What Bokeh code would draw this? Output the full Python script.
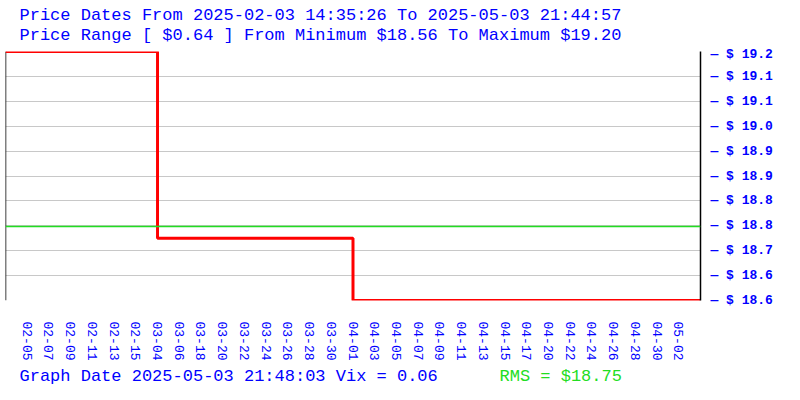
from bokeh.plotting import figure
from bokeh.models import Label, LinearAxis, Range1d, FixedTicker, Span
from bokeh.layouts import column
from bokeh.embed import file_html
from bokeh.resources import INLINE

# ---- data ----
date_labels = ["02-05", "02-07", "02-09", "02-11", "02-13", "02-15", "03-04", "03-06",
               "03-18", "03-20", "03-22", "03-24", "03-26", "03-28", "03-30", "04-01",
               "04-03", "04-05", "04-07", "04-09", "04-11", "04-13", "04-15", "04-17",
               "04-20", "04-22", "04-24", "04-26", "04-28", "04-30", "05-02"]
prices = [19.20] * 6 + [18.72] * 9 + [18.56] * 16
price_min = 18.56
price_max = 19.20
rms = 18.75
title1 = "Price Dates From 2025-02-03 14:35:26 To 2025-05-03 21:44:57"
title2 = "Price Range [ $0.64 ] From Minimum $18.56 To Maximum $19.20"
footer = "Graph Date 2025-05-03 21:48:03 Vix = 0.06"
rms_text = "RMS = $18.75"

BLUE = "#0000ff"
GREEN = "#22dd22"
MONO = "Liberation Mono"
W = 795

n = len(date_labels)
xs = [-1] + list(range(n)) + [n]
ys = [prices[0]] + prices + [prices[-1]]


def text_strip(height):
    f = figure(width=W, height=height, output_backend="svg", toolbar_location=None,
               x_range=Range1d(0, 1), y_range=Range1d(0, 1),
               min_border=0, x_axis_location=None, y_axis_location=None)
    f.outline_line_color = None
    f.grid.visible = False
    return f


def lab(f, txt, x, y, color, size="17px"):
    f.add_layout(Label(x=x, y=y, x_units="screen", y_units="screen", text=txt,
                       text_color=color, text_font=MONO, text_font_size=size,
                       text_baseline="middle"))


# header
head = text_strip(46)
lab(head, title1, 14, 31, BLUE)
lab(head, title2, 14, 11, BLUE)

# main chart
p = figure(width=W, height=317, output_backend="svg", toolbar_location=None,
           x_range=Range1d(-1, n), y_range=Range1d(price_min, price_max),
           min_border_left=5, min_border_right=95, min_border_top=5, min_border_bottom=62,
           y_axis_location=None)
p.outline_line_color = None
p.background_fill_color = "white"
p.border_fill_color = "white"

step = (price_max - price_min) / 10
yticks = [price_min + i * step for i in range(11)]

p.xgrid.visible = False
p.ygrid.ticker = FixedTicker(ticks=yticks)
p.ygrid.grid_line_color = "#c8c8c8"
p.ygrid.grid_line_width = 1

ax = LinearAxis(ticker=FixedTicker(ticks=yticks))
ax.major_label_overrides = {t: "\u2014 $ %.1f" % t for t in yticks}
ax.axis_line_color = "black"
ax.axis_line_width = 1.5
ax.major_tick_line_color = None
ax.minor_tick_line_color = None
ax.major_tick_out = 0
ax.major_tick_in = 0
ax.major_label_standoff = 10
ax.major_label_text_color = BLUE
ax.major_label_text_font = MONO
ax.major_label_text_font_style = "bold"
ax.major_label_text_font_size = "13px"
p.add_layout(ax, "right")

xa = p.xaxis[0]
xa.ticker = FixedTicker(ticks=list(range(n)))
xa.major_label_overrides = {i: d for i, d in enumerate(date_labels)}
xa.major_label_orientation = "vertical"
xa.axis_line_color = None
xa.major_tick_line_color = None
xa.minor_tick_line_color = None
xa.major_tick_out = 0
xa.major_tick_in = 0
xa.major_label_standoff = 21
xa.major_label_text_color = BLUE
xa.major_label_text_font = MONO
xa.major_label_text_font_size = "13px"

# left border line
p.line(x=[-1, -1], y=[price_min, price_max], line_color="black", line_width=1.5)

# RMS line
p.add_layout(Span(location=rms, dimension="width", line_color=GREEN, line_width=1.5))

# price step line
p.step(x=xs, y=ys, mode="after", line_color="red", line_width=3)

# footer
foot = text_strip(29)
lab(foot, footer, 14, 16, BLUE)
lab(foot, rms_text, 494, 16, GREEN)

layout = column(head, p, foot, spacing=0)
open("out.html", "w").write(file_html(layout, INLINE))
